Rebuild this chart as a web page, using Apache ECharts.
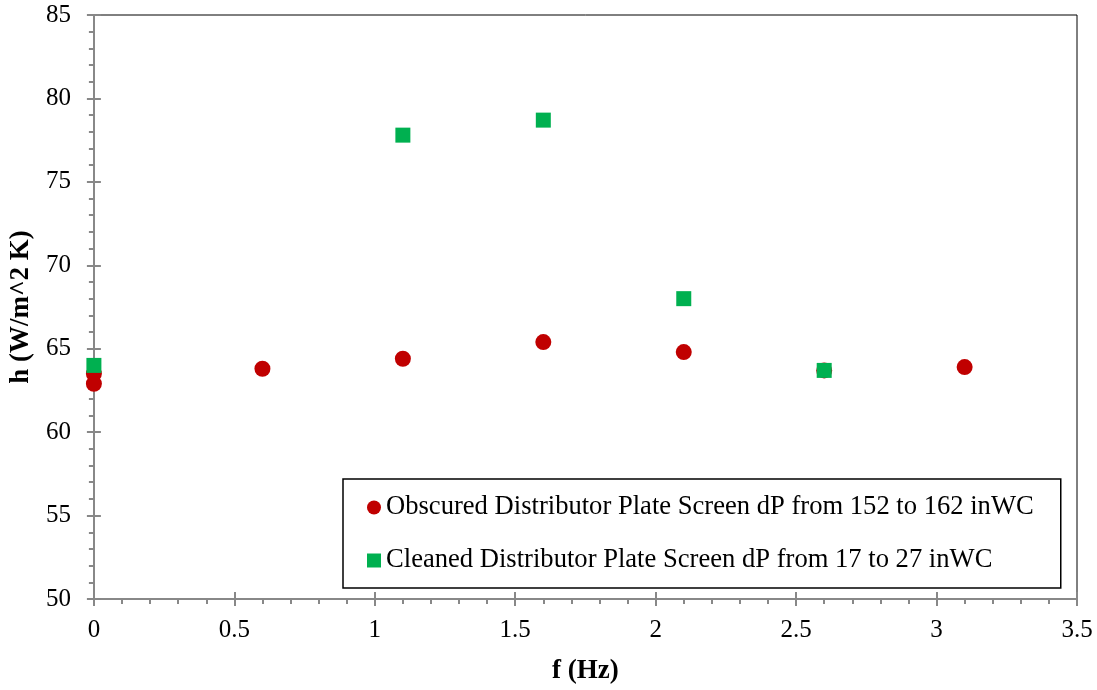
<!DOCTYPE html>
<html><head><meta charset="utf-8">
<script src="https://cdn.jsdelivr.net/npm/echarts@6/dist/echarts.min.js"></script>
<style>html,body{margin:0;padding:0;background:#fff}#c{width:1097px;height:690px}</style>
</head><body><div id="c"></div>
<script>
const seriesNames = ['Obscured Distributor Plate Screen dP from 152 to 162 inWC', 'Cleaned Distributor Plate Screen dP from 17 to 27 inWC'];
const obscuredF = [0, 0, 0.6, 1.1, 1.6, 2.1, 2.6, 3.1];
const obscuredH = [63.5, 62.9, 63.8, 64.4, 65.4, 64.8, 63.7, 63.9];
const cleanedF = [0, 1.1, 1.6, 2.1, 2.6];
const cleanedH = [64.0, 77.8, 78.7, 68.0, 63.7];
const xTitle = 'f (Hz)';
const yTitle = 'h (W/m^2 K)';

const font = 'Liberation Serif';
const axisGray = '#888888';
const chart = echarts.init(document.getElementById('c'));
const pairs = (xs, ys) => xs.map((x, i) => [x, ys[i]]);
chart.setOption({
  animation: false,
  grid: { left: 93, right: 20, top: 15, bottom: 87, show: true, borderColor: '#000', borderWidth: 1, backgroundColor: 'transparent' },
  legend: {
    orient: 'vertical', left: 343, top: 479,
    data: [{ name: seriesNames[0], icon: 'circle' }, { name: seriesNames[1], icon: 'rect' }],
    itemWidth: 14, itemHeight: 14, itemGap: 26, itemStyle: { borderWidth: 0 },
    padding: [15, 27, 14, 24],
    borderColor: '#000', borderWidth: 1.5,
    textStyle: { fontFamily: font, fontSize: 26.6, color: '#000' }
  },
  xAxis: [{
    type: 'value', min: 0, max: 3.5, interval: 0.5,
    name: xTitle, nameLocation: 'middle', nameGap: 59,
    nameTextStyle: { fontFamily: font, fontSize: 27, fontWeight: 'bold', color: '#000' },
    axisLine: { show: true, lineStyle: { color: axisGray, width: 2 } },
    axisTick: { show: true, length: 7, lineStyle: { color: axisGray, width: 2 } },
    minorTick: { show: true, splitNumber: 5, length: 5, lineStyle: { color: axisGray, width: 2 } },
    axisLabel: { fontFamily: font, fontSize: 25, color: '#000', margin: 19 },
    splitLine: { show: false }
  }, {
    type: 'value', min: 0, max: 3.5, interval: 0.5, position: 'bottom', gridIndex: 0,
    axisLine: { show: false }, axisLabel: { show: false }, splitLine: { show: false },
    axisTick: { show: true, inside: true, length: 7, lineStyle: { color: axisGray, width: 2 } }
  }],
  yAxis: [{
    type: 'value', min: 50, max: 85, interval: 5,
    name: yTitle, nameLocation: 'middle', nameGap: 58, nameRotate: 90,
    nameTextStyle: { fontFamily: font, fontSize: 27, fontWeight: 'bold', color: '#000' },
    axisLine: { show: true, lineStyle: { color: axisGray, width: 2 } },
    axisTick: { show: true, length: 7, lineStyle: { color: axisGray, width: 2 } },
    minorTick: { show: true, splitNumber: 5, length: 5, lineStyle: { color: axisGray, width: 2 } },
    axisLabel: { fontFamily: font, fontSize: 25, color: '#000', margin: 23 },
    splitLine: { show: false }
  }, {
    type: 'value', min: 50, max: 85, interval: 5, position: 'left',
    axisLine: { show: false }, axisLabel: { show: false }, splitLine: { show: false },
    axisTick: { show: true, inside: true, length: 7, lineStyle: { color: axisGray, width: 2 } }
  }],
  series: [{
    name: seriesNames[0], type: 'scatter', symbol: 'circle', symbolSize: 16,
    itemStyle: { color: '#C00000', opacity: 1 },
    data: pairs(obscuredF, obscuredH), z: 2
  }, {
    name: seriesNames[1], type: 'scatter', symbol: 'rect', symbolSize: 15,
    itemStyle: { color: '#00B050', opacity: 1 },
    data: pairs(cleanedF, cleanedH), z: 3
  }]
});
</script></body></html>
